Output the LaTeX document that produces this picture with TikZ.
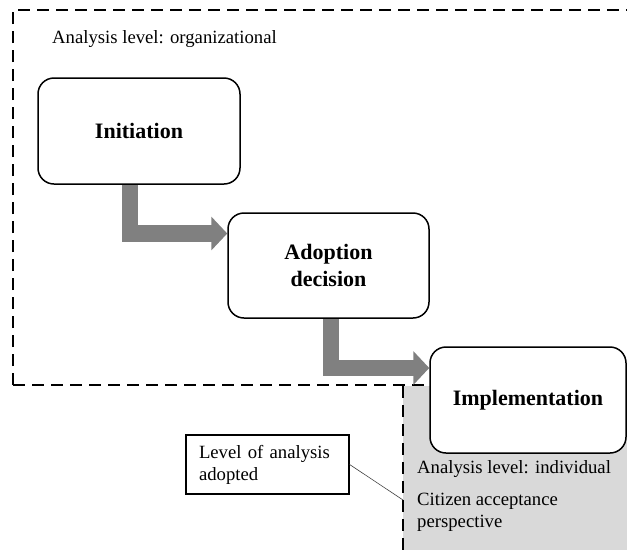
\documentclass[tikz,border=0pt]{standalone}
\usepackage{fontspec}
\setmainfont{Liberation Serif}
\usetikzlibrary{arrows.meta,backgrounds}
\definecolor{flowgrey}{HTML}{808080}
\definecolor{zonegrey}{HTML}{D9D9D9}
\tikzset{
  stage/.style={draw=black, line width=1.5pt, fill=white, rounded corners=16pt,
    inner sep=0pt, align=center, font=\fontsize{22}{26.4}\selectfont\bfseries},
  plain/.style={font=\fontsize{18.7}{22}\selectfont, inner sep=0pt, anchor=base west},
  boundary/.style={line width=1.6pt, dash pattern=on 12pt off 7pt},
  flowarrow/.style={draw=flowgrey, line width=16.5pt,
    -{Triangle[length=16pt, width=33pt]}},
  labelbox/.style={draw=black, line width=1.3pt, inner xsep=13pt, inner ysep=0pt,
    text width=137pt, minimum height=59pt, align=left,
    font=\fontsize{18.7}{22}\selectfont}
}
\begin{document}
\begin{tikzpicture}[x=1pt,y=-1pt]
\useasboundingbox (0,0) rectangle (627,550);

% stage boxes
\node[stage, minimum width=202pt, minimum height=106pt] (init) at (139,131) {Initiation};
\node[stage, minimum width=201pt, minimum height=105pt] (adopt) at (328.5,265.5) {Adoption\\decision};
\node[stage, minimum width=196pt, minimum height=106pt] (impl) at (528,400) {Implementation};

% texts
\node[plain] (orglevel) at (52,43) {Analysis level: organizational};
\node[plain] (indlevel) at (417,473) {Analysis level: individual};
\node[plain] (citizen) at (417,505) {Citizen acceptance};
\node[plain] (persp) at (417,527) {perspective};

% level of analysis label and its pointer to the zone boundary
\node[labelbox] (lbl) at (267.5,464.5) {Level of analysis\\adopted};
\coordinate (zoneedge) at (403,500);
\draw[line width=0.6pt, black!75] (lbl.east) -- (zoneedge);

\begin{scope}[on background layer]
  % shaded zone of the individual level
  \fill[zonegrey] (403,386) rectangle (627,550);
  % dashed boundaries
  \draw[boundary] (13,385) -- (13,10) -- (627,10);
  \draw[boundary] (13,385) -- (impl.west |- 0,385);
  \draw[boundary] (403,386) -- (403,550);
  % flow arrows
  \draw[flowarrow] ([xshift=-9pt]init.south) |- ([yshift=32pt]adopt.west);
  \draw[flowarrow] ([xshift=2.5pt]adopt.south) |- ([yshift=32pt]impl.west);
\end{scope}
\end{tikzpicture}
\end{document}
